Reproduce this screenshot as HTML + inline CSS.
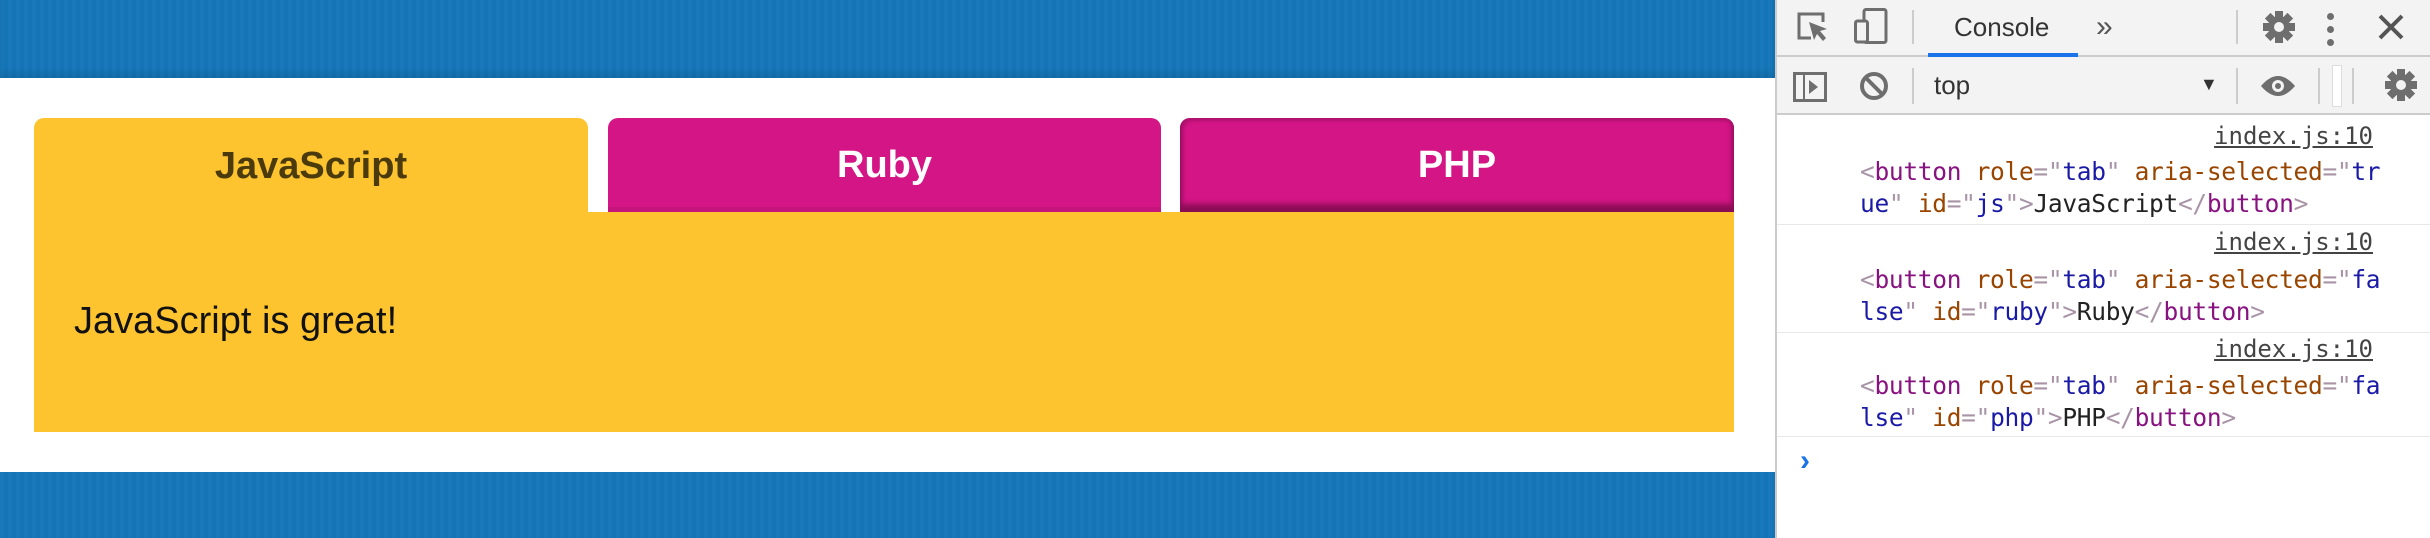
<!DOCTYPE html>
<html><head><meta charset="utf-8"><style>
*{box-sizing:border-box;margin:0;padding:0}
body{width:2430px;height:538px;overflow:hidden;position:relative;background:#fff;font-family:"Liberation Sans",sans-serif}
.abs{position:absolute}
.blue{left:0;width:1775px;background:#1476b8;background-image:repeating-linear-gradient(90deg,rgba(255,255,255,0.015) 0 4px,rgba(0,0,0,0.015) 4px 8px)}
.tab{top:118px;height:94px;border-radius:10px 10px 0 0;display:flex;align-items:center;justify-content:center;font-weight:bold;font-size:38px;border:none}
.mono{font-family:"DejaVu Sans Mono","Liberation Mono",monospace;font-size:24.5px;line-height:32px;white-space:pre;letter-spacing:-0.3px}
.tg{color:#881280}.at{color:#994500}.av{color:#1a1aa6}.pu{color:#a894a6}.tx{color:#222}
.src{right:57px;font-family:"DejaVu Sans Mono",monospace;font-size:24px;color:#444;text-decoration:underline}
.sep{height:1px;background:#e8e8e8;left:1777px;right:0}
</style></head><body>
<div class="abs blue" style="top:0;height:78px;box-shadow:inset 0 -6px 6px rgba(0,0,0,0.08)"></div>
<div class="abs blue" style="top:472px;height:66px"></div>

<button class="abs tab" style="left:34px;width:554px;height:96px;background:#fdc42f;color:#4a3a0c">JavaScript</button>
<button class="abs tab" style="left:608px;width:553px;background:#d41586;color:#fff;box-shadow:inset 0 -5px 0 #c5157d">Ruby</button>
<button class="abs tab" style="left:1180px;width:554px;background:#d41586;color:#fff;box-shadow:inset 0 -8px 6px #8a0d55,inset 3px 3px 3px #b0126f,inset -3px 0 3px #b0126f">PHP</button>
<div class="abs" style="left:34px;top:212px;width:1700px;height:220px;background:#fdc42f"></div>
<div class="abs" style="left:74px;top:300px;font-size:38px;color:#111">JavaScript is great!</div>

<div class="abs" style="left:1775px;top:0;width:655px;height:538px;background:#fff;border-left:2px solid #ccc"></div>
<div class="abs" style="left:1777px;top:0;right:0;height:57px;background:#f3f3f3;border-bottom:2px solid #ccc"></div>
<svg class="abs" style="left:1797px;top:12px" width="34" height="30" viewBox="0 0 34 30"><path d="M14 26H2V2h24v8" fill="none" stroke="#6e6e6e" stroke-width="3"/><path d="M12 10l18 7-7 2 6 7-3 3-6-7-3 6z" fill="#6e6e6e"/></svg>
<svg class="abs" style="left:1854px;top:8px" width="34" height="36" viewBox="0 0 34 36"><rect x="10" y="1.5" width="22" height="33" rx="2" fill="none" stroke="#6e6e6e" stroke-width="3"/><rect x="1.5" y="13" width="12" height="21" rx="2" fill="#f3f3f3" stroke="#6e6e6e" stroke-width="3"/></svg>
<div class="abs" style="left:1912px;top:10px;width:2px;height:34px;background:#ccc"></div>
<div class="abs" style="left:1954px;top:12px;font-size:26px;color:#333">Console</div>
<div class="abs" style="left:1928px;top:53px;width:150px;height:4px;background:#1a73e8"></div>
<div class="abs" style="left:2096px;top:10px;font-size:30px;color:#555">»</div>
<div class="abs" style="left:2236px;top:10px;width:2px;height:34px;background:#ccc"></div>
<svg class="abs" style="left:2262px;top:10px" width="34" height="34" viewBox="-17 -17 34 34"><g fill="#6e6e6e"><circle r="11"/><rect x="-4" y="-16" width="8" height="32"/><rect x="-4" y="-16" width="8" height="32" transform="rotate(45)"/><rect x="-4" y="-16" width="8" height="32" transform="rotate(90)"/><rect x="-4" y="-16" width="8" height="32" transform="rotate(135)"/></g><circle r="5" fill="#f3f3f3"/></svg>
<div class="abs" style="left:2327px;top:13px;width:8px"><div style="width:7px;height:7px;border-radius:50%;background:#6e6e6e;margin-bottom:6px"></div><div style="width:7px;height:7px;border-radius:50%;background:#6e6e6e;margin-bottom:6px"></div><div style="width:7px;height:7px;border-radius:50%;background:#6e6e6e"></div></div>
<svg class="abs" style="left:2378px;top:14px" width="26" height="26" viewBox="0 0 26 26"><path d="M2 2L24 24M24 2L2 24" stroke="#555" stroke-width="4"/></svg>

<div class="abs" style="left:1777px;top:57px;right:0;height:58px;background:#f3f3f3;border-bottom:2px solid #ccc"></div>
<svg class="abs" style="left:1793px;top:72px" width="34" height="30" viewBox="0 0 34 30"><rect x="1.5" y="1.5" width="31" height="27" fill="none" stroke="#6e6e6e" stroke-width="3"/><line x1="11" y1="1" x2="11" y2="29" stroke="#6e6e6e" stroke-width="2"/><path d="M16 8l9 7-9 7z" fill="#6e6e6e"/></svg>
<svg class="abs" style="left:1859px;top:71px" width="30" height="30" viewBox="0 0 30 30"><circle cx="15" cy="15" r="12" fill="none" stroke="#6e6e6e" stroke-width="4"/><line x1="7" y1="7" x2="23" y2="23" stroke="#6e6e6e" stroke-width="4"/></svg>
<div class="abs" style="left:1912px;top:68px;width:2px;height:36px;background:#ccc"></div>
<div class="abs" style="left:1934px;top:70px;font-size:26px;color:#333">top</div>
<div class="abs" style="left:2200px;top:74px;font-size:18px;color:#333">▼</div>
<div class="abs" style="left:2236px;top:68px;width:2px;height:36px;background:#ccc"></div>
<svg class="abs" style="left:2260px;top:74px" width="36" height="24" viewBox="0 0 36 24"><path d="M1 12Q18-8 35 12Q18 32 1 12z" fill="#6e6e6e"/><circle cx="18" cy="12" r="6" fill="#f3f3f3"/><circle cx="18" cy="12" r="3" fill="#6e6e6e"/></svg>
<div class="abs" style="left:2318px;top:68px;width:2px;height:36px;background:#ccc"></div>
<div class="abs" style="left:2332px;top:65px;width:10px;height:42px;background:#fff;border:1px solid #ddd"></div>
<div class="abs" style="left:2352px;top:68px;width:2px;height:36px;background:#ccc"></div>
<svg class="abs" style="left:2384px;top:68px" width="34" height="34" viewBox="-17 -17 34 34"><g fill="#6e6e6e"><circle r="11"/><rect x="-4" y="-16" width="8" height="32"/><rect x="-4" y="-16" width="8" height="32" transform="rotate(45)"/><rect x="-4" y="-16" width="8" height="32" transform="rotate(90)"/><rect x="-4" y="-16" width="8" height="32" transform="rotate(135)"/></g><circle r="5" fill="#f3f3f3"/></svg>

<div class="abs src" style="top:122px">index.js:10</div>
<div class="abs mono" style="left:1860px;top:156px"><span class="pu">&lt;</span><span class="tg">button</span> <span class="at">role</span><span class="pu">="</span><span class="av">tab</span><span class="pu">"</span> <span class="at">aria-selected</span><span class="pu">="</span><span class="av">tr</span>
<span class="av">ue</span><span class="pu">"</span> <span class="at">id</span><span class="pu">="</span><span class="av">js</span><span class="pu">"&gt;</span><span class="tx">JavaScript</span><span class="pu">&lt;/</span><span class="tg">button</span><span class="pu">&gt;</span></div>
<div class="abs sep" style="top:224px"></div>
<div class="abs src" style="top:228px">index.js:10</div>
<div class="abs mono" style="left:1860px;top:264px"><span class="pu">&lt;</span><span class="tg">button</span> <span class="at">role</span><span class="pu">="</span><span class="av">tab</span><span class="pu">"</span> <span class="at">aria-selected</span><span class="pu">="</span><span class="av">fa</span>
<span class="av">lse</span><span class="pu">"</span> <span class="at">id</span><span class="pu">="</span><span class="av">ruby</span><span class="pu">"&gt;</span><span class="tx">Ruby</span><span class="pu">&lt;/</span><span class="tg">button</span><span class="pu">&gt;</span></div>
<div class="abs sep" style="top:332px"></div>
<div class="abs src" style="top:335px">index.js:10</div>
<div class="abs mono" style="left:1860px;top:370px"><span class="pu">&lt;</span><span class="tg">button</span> <span class="at">role</span><span class="pu">="</span><span class="av">tab</span><span class="pu">"</span> <span class="at">aria-selected</span><span class="pu">="</span><span class="av">fa</span>
<span class="av">lse</span><span class="pu">"</span> <span class="at">id</span><span class="pu">="</span><span class="av">php</span><span class="pu">"&gt;</span><span class="tx">PHP</span><span class="pu">&lt;/</span><span class="tg">button</span><span class="pu">&gt;</span></div>
<div class="abs sep" style="top:436px"></div>
<div class="abs" style="left:1800px;top:444px;font-size:30px;color:#1a73e8;font-weight:bold">›</div>
</body></html>
